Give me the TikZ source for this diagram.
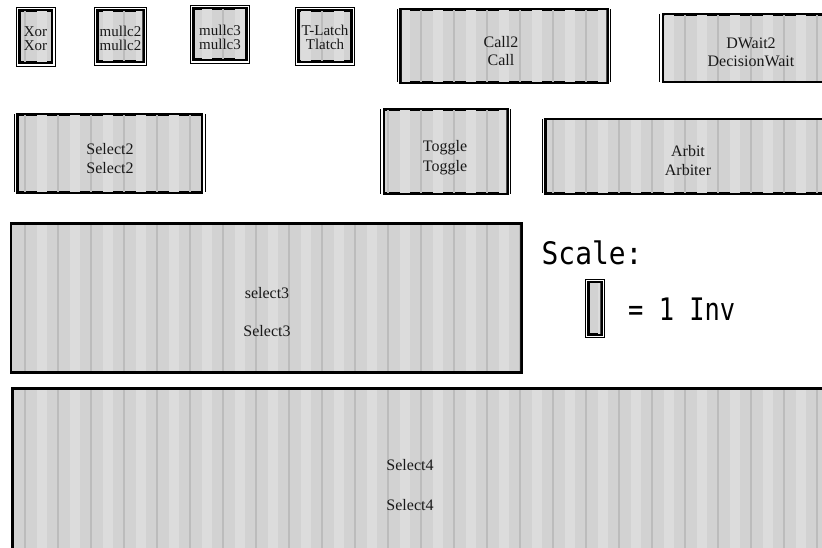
\documentclass[tikz,border=0pt]{standalone}
\usepackage{fontspec}
\setmainfont{Liberation Serif}
\newfontfamily\scalefnt{DejaVu Sans Mono}
\definecolor{boxfill}{RGB}{210,210,210}
\definecolor{stripecol}{RGB}{188,188,188}
\definecolor{bandcol}{RGB}{220,220,220}
\tikzset{
  blkbox/.style={draw=black, line width=2.6pt, fill=boxfill, inner sep=0pt, outer sep=0pt, rectangle},
  outline/.style={draw=black, line width=0.9pt},
  lbl/.style={font=\fontsize{16}{#1}\selectfont, align=center, inner sep=0pt, text=black!90},
  lbl/.default=13,
  smalllbl/.style={font=\fontsize{15}{13.5}\selectfont, align=center, inner sep=0pt, text=black!90},
  scaletxt/.style={font=\scalefnt\fontsize{31}{31}\selectfont, inner sep=0pt, anchor=base west},
}
% name x1 y1 x2 y2 (thick border centre line, y measured downward)
\newcommand\mkbox[5]{%
  \node[blkbox, minimum width={(#4-#2)*1pt}, minimum height={(#5-#3)*1pt}] (#1) at ({(#2+#4)/2},{-(#3+#5)/2}) {};
  \begin{scope}
    \clip ([shift={(1.3,-1.3)}]#1.north west) rectangle ([shift={(-1.3,1.3)}]#1.south east);
    \foreach \sx in {0,...,24} {
      \fill[bandcol] ({41.5+33*\sx-5},0) rectangle ({41.5+33*\sx+5},-548);
      \draw[stripecol, line width=1.4pt] ({25+33*\sx},0) -- ({25+33*\sx},-548);
    }
  \end{scope}
}
\newcommand\fullframe[1]{%
  \draw[outline] ([shift={(-3.2,3.2)}]#1.north west) rectangle ([shift={(3.2,-3.2)}]#1.south east);
}
\newcommand\sideframe[1]{%
  \draw[outline] ([shift={(-3.2,0)}]#1.north west) -- ([shift={(-3.2,0)}]#1.south west);
  \draw[outline] ([shift={(3.2,0)}]#1.north east) -- ([shift={(3.2,0)}]#1.south east);
}
\begin{document}
\begin{tikzpicture}[x=1pt,y=1pt]
\useasboundingbox (0,0) rectangle (822,-548);
\clip (0,0) rectangle (822,-548);
\fill[white] (0,0) rectangle (822,-548);

% small cells
\mkbox{xor}{19.7}{10.3}{51.8}{62.8}
\fullframe{xor}
\node[smalllbl] (xorlbl) at (35.5,-38.5) {Xor\\Xor};

\mkbox{mullctwo}{97.3}{10.3}{143.6}{61.8}
\fullframe{mullctwo}
\node[smalllbl] (mullctwolbl) at (120.5,-38.5) {mullc2\\mullc2};

\mkbox{mullcthree}{193.3}{8.3}{246.6}{59.8}
\fullframe{mullcthree}
\node[smalllbl] (mullcthreelbl) at (220,-37.5) {mullc3\\mullc3};

\mkbox{tlatch}{298.3}{10.3}{351.6}{61.8}
\fullframe{tlatch}
\node[smalllbl] (tlatchlbl) at (325,-37.5) {T-Latch\\Tlatch};

% wide cells, first row
\mkbox{call}{400.5}{9.5}{607.7}{82.5}
\sideframe{call}
\node[lbl=18] (calllbl) at (501,-51) {Call2\\Call};

\mkbox{dwait}{663}{14.3}{840}{82}
\sideframe{dwait}
\node[lbl=18] (dwaitlbl) at (751,-52.3) {DWait2\\DecisionWait};

% second row
\mkbox{selecttwo}{17.3}{114.3}{202}{192.5}
\sideframe{selecttwo}
\node[lbl=19] (selecttwolbl) at (110,-158.5) {Select2\\Select2};

\mkbox{toggle}{384}{109.5}{507.7}{193.8}
\sideframe{toggle}
\node[lbl=20] (togglelbl) at (445,-157.3) {Toggle\\Toggle};

\mkbox{arbit}{545.5}{119.2}{840}{193.5}
\sideframe{arbit}
\node[lbl=19] (arbitlbl) at (688,-160.5) {Arbit\\Arbiter};

% large cells
\mkbox{selectthree}{11}{223.8}{521.3}{372.2}
\node[lbl=38] (selectthreelbl) at (267,-312) {select3\\Select3};

\mkbox{selectfour}{12.2}{388.7}{840}{570}
\node[lbl=40] (selectfourlbl) at (410,-485) {Select4\\Select4};

% scale legend
\node[scaletxt, xscale=0.9] (scalehead) at (541.5,-265) {Scale:};
\mkbox{unitbox}{588.5}{282}{601.7}{334.5}
\draw[outline] ([shift={(-2.6,2.6)}]unitbox.north west) rectangle ([shift={(2.6,-2.6)}]unitbox.south east);
\node[scaletxt, xscale=0.82] (scaleeq) at (628,-320) {= 1 Inv};
\end{tikzpicture}
\end{document}
